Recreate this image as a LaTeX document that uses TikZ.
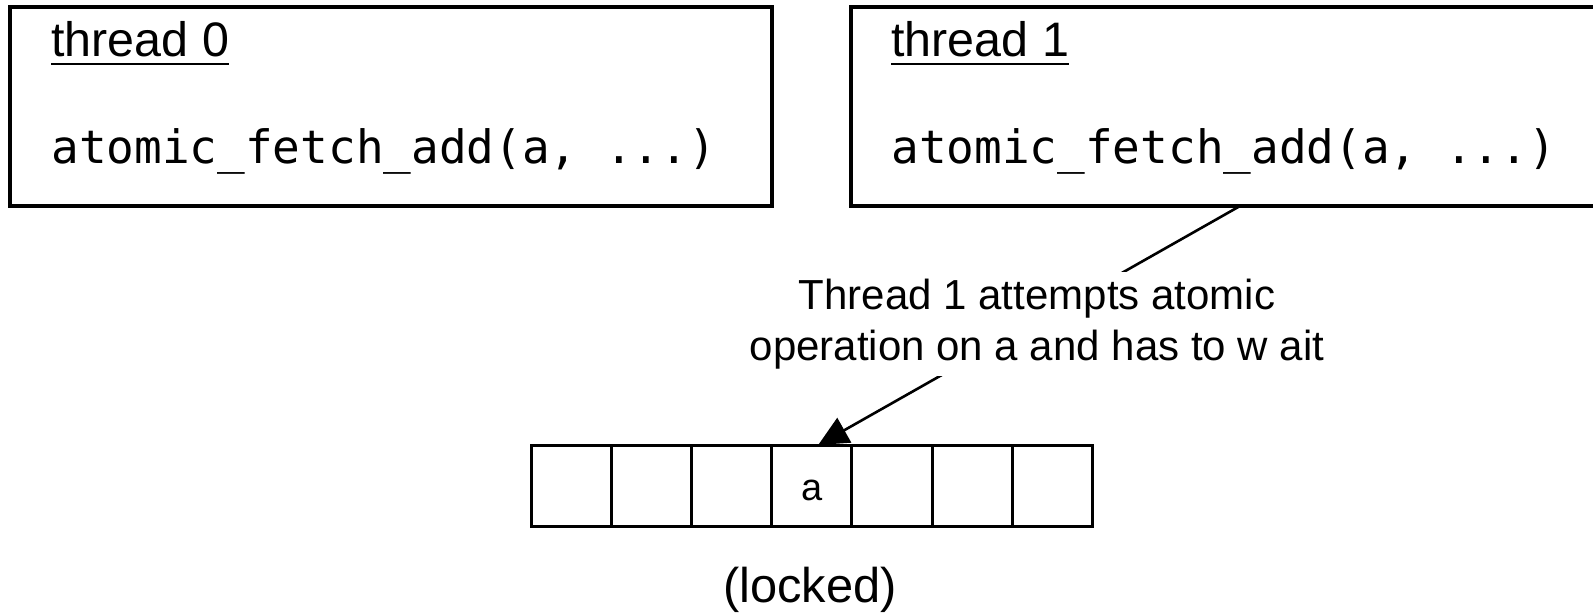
\documentclass[tikz,border=0pt]{standalone}
\usepackage{fontspec}
\setmainfont{Liberation Sans}
\newfontfamily\codefont{DejaVu Sans Mono}
\usetikzlibrary{arrows.meta}
\begin{document}
\begin{tikzpicture}[x=0.5pt,y=-0.5pt,
  threadbox/.style={draw, line width=1.6pt, inner sep=0pt, outer sep=0pt, anchor=north west},
  cellbox/.style={draw, line width=1.5pt, minimum width=40.1pt, minimum height=40.5pt, inner sep=0pt, outer sep=0pt},
  titletext/.style={inner sep=0pt, anchor=base west, font=\fontsize{24.2}{29}\selectfont},
  codetext/.style={inner sep=0pt, anchor=base west, font=\codefont\fontsize{23}{28}\selectfont},
  uline/.style={line width=1.4pt},
  conn/.style={line width=1.3pt, -{Triangle[length=15pt,width=14pt]}},
  note/.style={align=center, fill=white, inner xsep=2pt, inner ysep=3.5pt, font=\fontsize{21}{25.5}\selectfont}
]
\useasboundingbox (0,0) rectangle (1593,615);

% thread boxes
\node[threadbox, minimum width=381pt, minimum height=99.5pt] (box0) at (10,7) {};
\node[threadbox, minimum width=385pt, minimum height=99.5pt] (box1) at (851,7) {};

\node[titletext] (t0) at (51,57) {thread 0};
\draw[uline] ([yshift=-3.5pt]t0.base west) -- ([yshift=-3.5pt]t0.base east);
\node[codetext] (code0) at (51,163) {atomic\_fetch\_add(a, ...)};

\node[titletext] (t1) at (891,57) {thread 1};
\draw[uline] ([yshift=-3.5pt]t1.base west) -- ([yshift=-3.5pt]t1.base east);
\node[codetext] (code1) at (891,163) {atomic\_fetch\_add(a, ...)};

% memory cells
\foreach \i in {0,1,2,4,5,6}
  \node[cellbox] (c\i) at ({531+80.2*(\i+0.5)},485.5) {};
\node[cellbox, font=\fontsize{19}{23}\selectfont, text height=15pt, text depth=0pt] (c3) at ({531+80.2*3.5},485.5) {a};

\node[inner sep=0pt, anchor=base, font=\fontsize{24.4}{29}\selectfont] (locked) at (810,602) {(locked)};

% connector with label
\draw[conn] ([xshift=194.5pt]box1.south west) -- ([xshift=3.25pt]c3.north);
\node[note] (lbl) at (1037,324) {Thread 1 attempts atomic\\operation on a and has to w ait};
\end{tikzpicture}
\end{document}
